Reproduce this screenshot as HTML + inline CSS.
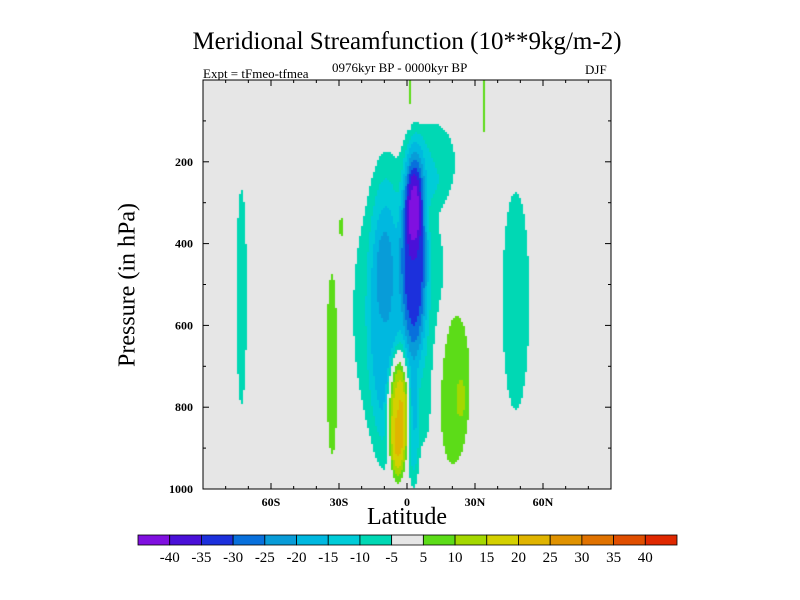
<!DOCTYPE html>
<html><head><meta charset="utf-8"><style>
body{margin:0;background:#fff;}
#wrap{position:relative;width:800px;height:600px;font-family:"Liberation Serif",serif;color:#000;}
.t{position:absolute;white-space:nowrap;}
</style></head><body>
<div id="wrap">
<div class="t" style="left:0;width:814px;text-align:center;top:28px;font-size:25px;">Meridional Streamfunction (10**9kg/m-2)</div>
<div class="t" style="left:203px;top:66px;font-size:13px;">Expt = tFmeo-tfmea</div>
<div class="t" style="left:332px;top:60px;font-size:13px;">0976kyr BP - 0000kyr BP</div>
<div class="t" style="left:585px;top:62px;font-size:13px;">DJF</div>
<div class="t" style="left:128px;top:285px;font-size:24px;transform:translate(-50%,-50%) rotate(-90deg);">Pressure (in hPa)</div>
<div class="t" style="left:0;width:814px;text-align:center;top:504px;font-size:24px;">Latitude</div>
<canvas id="cv" width="800" height="600" style="position:absolute;left:0;top:0"></canvas>
<svg id="sv" width="800" height="600" style="position:absolute;left:0;top:0"></svg>
</div>
<script>
// blob data: latitude, pressure, lat spread, pressure spread, amplitude
const blobLat=[-3,12,-10,-10,3,3,-4,3,20,24,-33,-29,48,-73,1,34];
const blobP=[570,200,560,460,420,310,820,850,740,780,690,360,540,530,20,30];
const blobSLat=[19,9,6,3,5,3,4,2,7,1.5,2.5,1,6,2.5,0.6,0.5];
const blobSP=[340,90,280,80,220,80,130,120,180,30,230,30,270,290,90,110];
const blobAmp=[-10,-8,-10,-4,-25,-10,31,-8,11,5,8,7,-8,-7,7,7];
const levels=[-40,-35,-30,-25,-20,-15,-10,-5,5,10,15,20,25,30,35,40];
const colors=["#8010e0","#4a10d8","#1c30dc","#0870dc","#089cd8","#00b8e0","#00ccd8","#00d8b4","#e6e6e6","#5cdc18","#a4d800","#d4d000","#e0b400","#e09200","#e07200","#e04e00","#e02800"];
const yTicks=[200,400,600,800,1000];
const xTicks=[-60,-30,0,30,60];
const xTickLabels=["60S","30S","0","30N","60N"];
const barLabels=["-40","-35","-30","-25","-20","-15","-10","-5","5","10","15","20","25","30","35","40"];

const X0=203,X1=611,Y0=80,Y1=489;
const xs=lat=>X0+(lat+90)/180*(X1-X0);
const ys=p=>Y0+p/1000*(Y1-Y0);
const latOf=x=>(x-X0)/(X1-X0)*180-90;
const pOf=y=>(y-Y0)/(Y1-Y0)*1000;
function field(lat,p){let v=0;for(let i=0;i<blobLat.length;i++){const a=(lat-blobLat[i])/blobSLat[i],b=(p-blobP[i])/blobSP[i];const r2=a*a+b*b;v+=blobAmp[i]*Math.exp(-0.5*r2*r2);}return v;}
function colorFor(v){let k=0;while(k<levels.length&&v>=levels[k])k++;return colors[k];}

const cv=document.getElementById('cv'),ctx=cv.getContext('2d');
ctx.fillStyle="#e6e6e6";ctx.fillRect(X0,Y0,X1-X0,Y1-Y0);
for(let x=X0;x<X1;x+=2){for(let y=Y0;y<Y1;y+=2){const v=field(latOf(x+1),pOf(y+1));const c=colorFor(v);if(c!=="#e6e6e6"){ctx.fillStyle=c;ctx.fillRect(x,y,2,2);}}}

const NS="http://www.w3.org/2000/svg",sv=document.getElementById('sv');
function mk(tag,attrs,txt){const e=document.createElementNS(NS,tag);for(const k in attrs)e.setAttribute(k,attrs[k]);if(txt!=null)e.textContent=txt;sv.appendChild(e);return e;}
let fr=mk('rect',{x:X0,y:Y0,width:X1-X0,height:Y1-Y0,fill:'none',stroke:'#000','stroke-width':1});


for(let p=0;p<=1000;p+=100){const y=ys(p),len=p%200===0?6:3;
 let t=mk('line',{x1:X0,x2:X0+len,y1:y,y2:y,stroke:'#000'});
 let t2=mk('line',{x1:X1,x2:X1-len,y1:y,y2:y,stroke:'#000'});}
yTicks.forEach(p=>{let l=mk('text',{x:X0-10,y:ys(p)+4,'text-anchor':'end','font-size':12,'font-weight':'bold','font-family':'Liberation Serif'},String(p));});
for(let lat=-80;lat<=80;lat+=10){const x=xs(lat),len=lat%30===0?6:3;
 let t=mk('line',{x1:x,x2:x,y1:Y1,y2:Y1-len,stroke:'#000'});
 let t2=mk('line',{x1:x,x2:x,y1:Y0,y2:Y0+len,stroke:'#000'});}
xTicks.forEach((lat,i)=>{let l=mk('text',{x:xs(lat),y:Y1+17,'text-anchor':'middle','font-size':12,'font-weight':'bold','font-family':'Liberation Serif'},xTickLabels[i]);});
const BX0=138,BX1=677,BY=535,BH=10,bw=(BX1-BX0)/colors.length;
colors.forEach((c,i)=>{let r=mk('rect',{x:BX0+i*bw,y:BY,width:bw,height:BH,fill:c,stroke:'#000','stroke-width':0.8});});
barLabels.forEach((s,i)=>{let l=mk('text',{x:BX0+(i+1)*bw,y:BY+27,'text-anchor':'middle','font-size':15,'font-family':'Liberation Serif'},s);});
</script>
</body></html>
